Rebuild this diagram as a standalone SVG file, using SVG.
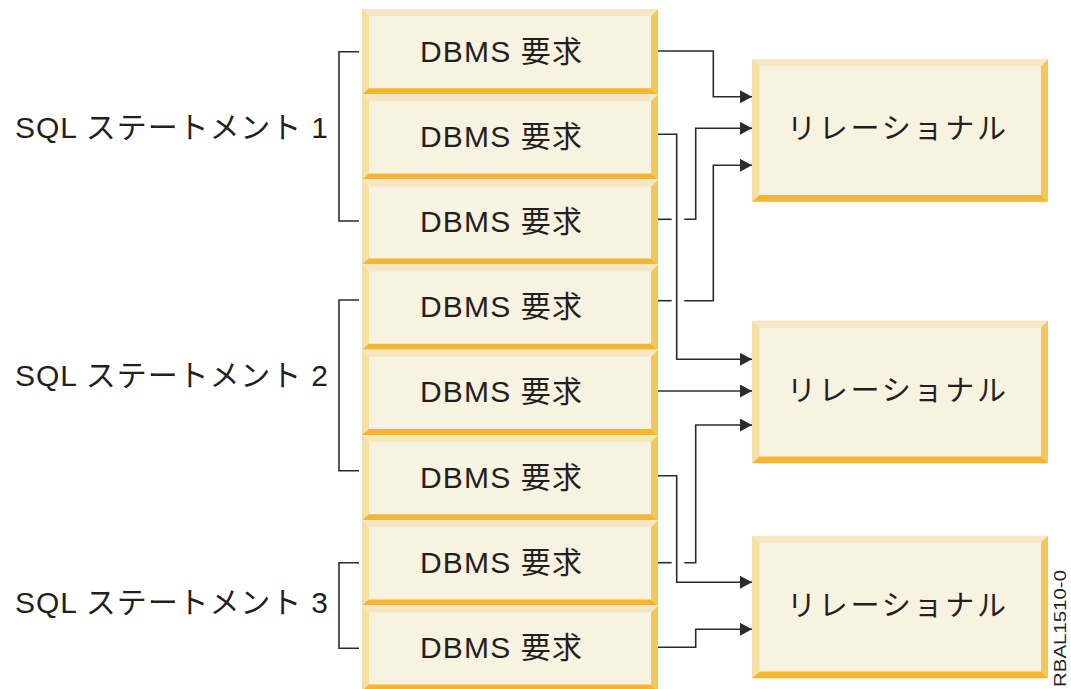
<svg xmlns="http://www.w3.org/2000/svg" width="1071" height="689" viewBox="0 0 1071 689">
<style>
.t{font-family:"Liberation Sans","Noto Sans CJK JP",sans-serif;font-size:30px;fill:#231f20}
.r{font-family:"Noto Sans CJK JP",sans-serif;font-size:29px;fill:#231f20}
.c{fill:none;stroke:#2b2b2b;stroke-width:1.6}
.a{marker-end:url(#arr)}
</style>
<defs>
<marker id="arr" markerUnits="userSpaceOnUse" markerWidth="13" markerHeight="14" refX="12" refY="6.5" orient="auto">
<path d="M0,0 L12,6.5 L0,13 z" fill="#2b2b2b"/>
</marker>
<g id="dbmsBox">
<rect width="296" height="85.2" fill="#f8f2e0"/>
<polygon points="0,0 296,0 289,7 7,7" fill="#f5e7c3"/>
<polygon points="0,0 7,7 7,79.2 0,85.2" fill="#f7dea2"/>
<polygon points="296,0 296,85.2 289,79.2 289,7" fill="#f5c75b"/>
<polygon points="0,85.2 296,85.2 289,79.2 7,79.2" fill="#f3b532"/>
</g>
<g id="relBox">
<rect width="296" height="142.5" fill="#f8f2e0"/>
<polygon points="0,0 296,0 289,7 7.5,7" fill="#f5e7c3"/>
<polygon points="0,0 7.5,7 7.5,135.8 0,142.5" fill="#f7dea2"/>
<polygon points="296,0 296,142.5 289,135.8 289,7" fill="#f5c75b"/>
<polygon points="0,142.5 296,142.5 289,135.8 7.5,135.8" fill="#f3b532"/>
</g>
</defs>

<g id="sql1"><text class="t" x="15" y="138" textLength="313" lengthAdjust="spacing">SQL ステートメント 1</text></g>
<g id="sql2"><text class="t" x="15" y="386" textLength="313" lengthAdjust="spacing">SQL ステートメント 2</text></g>
<g id="sql3"><text class="t" x="15" y="613" textLength="313" lengthAdjust="spacing">SQL ステートメント 3</text></g>

<g id="dbms1"><use href="#dbmsBox" x="362" y="9"/><text class="t" x="420" y="61.5" textLength="162" lengthAdjust="spacing">DBMS 要求</text></g>
<g id="dbms2"><use href="#dbmsBox" x="362" y="94.2"/><text class="t" x="420" y="146.7" textLength="162" lengthAdjust="spacing">DBMS 要求</text></g>
<g id="dbms3"><use href="#dbmsBox" x="362" y="179.4"/><text class="t" x="420" y="231.9" textLength="162" lengthAdjust="spacing">DBMS 要求</text></g>
<g id="dbms4"><use href="#dbmsBox" x="362" y="264.6"/><text class="t" x="420" y="317.1" textLength="162" lengthAdjust="spacing">DBMS 要求</text></g>
<g id="dbms5"><use href="#dbmsBox" x="362" y="349.8"/><text class="t" x="420" y="402.3" textLength="162" lengthAdjust="spacing">DBMS 要求</text></g>
<g id="dbms6"><use href="#dbmsBox" x="362" y="435"/><text class="t" x="420" y="487.5" textLength="162" lengthAdjust="spacing">DBMS 要求</text></g>
<g id="dbms7"><use href="#dbmsBox" x="362" y="520.2"/><text class="t" x="420" y="572.7" textLength="162" lengthAdjust="spacing">DBMS 要求</text></g>
<g id="dbms8"><use href="#dbmsBox" x="362" y="605.4"/><text class="t" x="420" y="657.9" textLength="162" lengthAdjust="spacing">DBMS 要求</text></g>

<g id="rel1"><use href="#relBox" x="752" y="59.3"/><text class="r" x="787" y="139" textLength="219" lengthAdjust="spacing">リレーショナル</text></g>
<g id="rel2"><use href="#relBox" x="752" y="320.7"/><text class="r" x="787" y="401" textLength="219" lengthAdjust="spacing">リレーショナル</text></g>
<g id="rel3"><use href="#relBox" x="752" y="535.7"/><text class="r" x="787" y="616" textLength="219" lengthAdjust="spacing">リレーショナル</text></g>

<g id="connectors">
<path class="c" d="M359,51.7 H339 V221 H359"/>
<path class="c" d="M359,300 H339 V470.7 H359"/>
<path class="c" d="M359,562.7 H339 V648.3 H359"/>

<path class="c a" d="M658,51 H713.3 V96.7 H752"/>
<path class="c a" d="M658,134.3 H676.7 V359.3 H752"/>
<path class="c" d="M658,219.3 H671.7"/>
<path class="c a" d="M684.3,219.3 H695.7 V128.3 H752"/>
<path class="c" d="M658,300.7 H671.7"/>
<path class="c a" d="M684.3,300.7 H713.3 V165.3 H752"/>
<path class="c a" d="M658,391 H752"/>
<path class="c a" d="M658,475.7 H676.7 V582.3 H752"/>
<path class="c" d="M658,562.7 H671.7"/>
<path class="c a" d="M684.3,562.7 H695.7 V425 H752"/>
<path class="c a" d="M658,647.3 H695.7 V629.3 H752"/>
</g>

<text transform="translate(1066,687) rotate(-90)" font-family="Liberation Sans, sans-serif" font-size="16" fill="#231f20" textLength="117" lengthAdjust="spacingAndGlyphs">RBAL1510-0</text>
</svg>
